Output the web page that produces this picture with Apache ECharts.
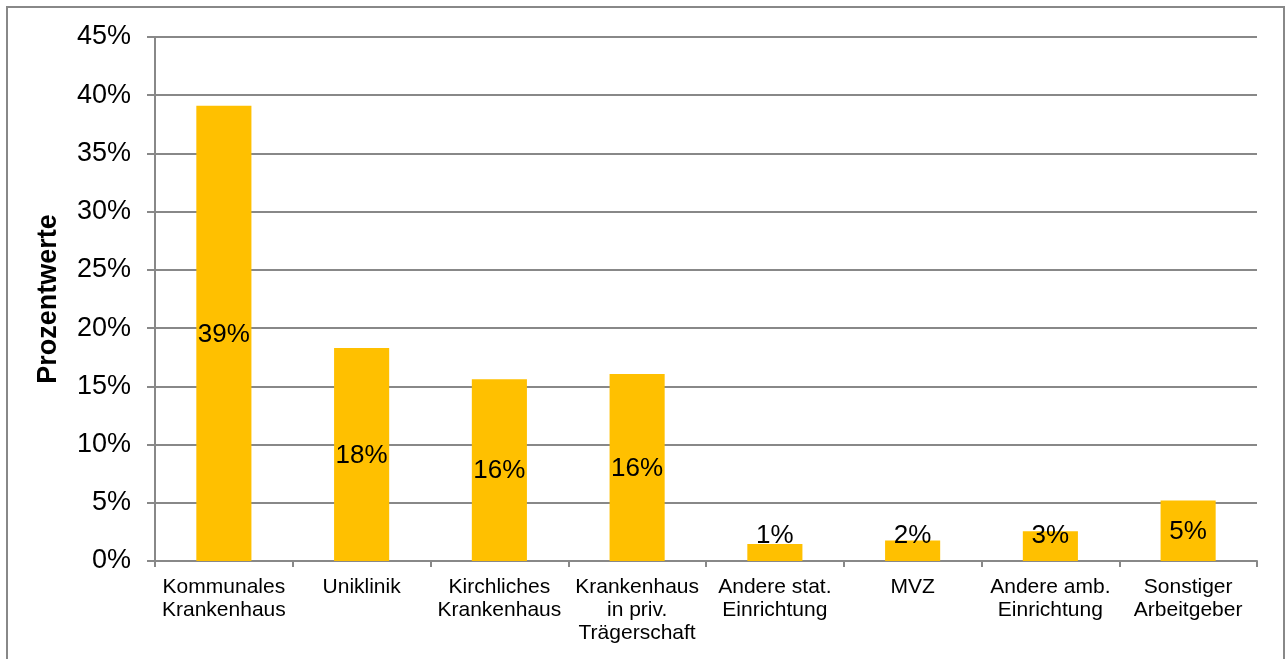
<!DOCTYPE html>
<html>
<head>
<meta charset="utf-8">
<script src="https://cdn.jsdelivr.net/npm/echarts@6/dist/echarts.min.js"></script>
<style>
html,body{margin:0;padding:0;background:#fff;}
#c{width:1288px;height:659px;}
</style>
</head>
<body>
<div id="c"></div>
<script>
var categories = [
  'Kommunales\nKrankenhaus',
  'Uniklinik',
  'Kirchliches\nKrankenhaus',
  'Krankenhaus\nin priv.\nTrägerschaft',
  'Andere stat.\nEinrichtung',
  'MVZ',
  'Andere amb.\nEinrichtung',
  'Sonstiger\nArbeitgeber'
];
var values = [39.1, 18.3, 15.6, 16.05, 1.45, 1.75, 2.55, 5.2];
var yTicks = { min: 0, max: 45, interval: 5 };
var axisTitle = 'Prozentwerte';

var chart = echarts.init(document.getElementById('c'), null, {renderer: 'canvas'});
var font = '"Liberation Sans", Arial, sans-serif';
chart.setOption({
  animation: false,
  backgroundColor: '#ffffff',
  graphic: [{
    type: 'rect',
    shape: {x: 7, y: 7, width: 1277, height: 700},
    style: {fill: 'none', stroke: '#888888', lineWidth: 2},
    silent: true
  }],
  grid: {left: 155, right: 31, top: 37, bottom: 98, containLabel: false},
  xAxis: {
    type: 'category',
    data: categories,
    axisLine: {show: true, lineStyle: {color: '#888888', width: 2}},
    axisTick: {show: true, alignWithLabel: false, length: 6, lineStyle: {color: '#888888', width: 2}},
    axisLabel: {
      interval: 0, margin: 15, color: '#000', fontFamily: font, fontSize: 21, lineHeight: 23, align: 'center'
    },
    splitLine: {show: false}
  },
  yAxis: {
    type: 'value',
    min: yTicks.min, max: yTicks.max, interval: yTicks.interval,
    name: axisTitle,
    nameLocation: 'middle',
    nameGap: 93,
    nameRotate: 90,
    nameTextStyle: {color: '#000', fontFamily: font, fontSize: 27, fontWeight: 'bold'},
    axisLine: {show: true, lineStyle: {color: '#888888', width: 2}},
    axisTick: {show: true, length: 8, inside: false, lineStyle: {color: '#888888', width: 2}},
    axisLabel: {formatter: '{value}%', margin: 24, color: '#000', fontFamily: font, fontSize: 27},
    splitLine: {show: true, lineStyle: {color: '#888888', width: 2}}
  },
  series: [{
    type: 'bar',
    data: values,
    barWidth: '40%',
    itemStyle: {color: '#FFC000'},
    label: {
      show: true,
      position: 'inside',
      color: '#000',
      fontFamily: font,
      fontSize: 26,
      formatter: function (p) { return Math.round(p.value) + '%'; }
    },
    labelLayout: function (p) {
      var cy = p.rect.y + p.rect.height / 2;
      return {
        x: p.rect.x + p.rect.width / 2,
        y: Math.min(cy + 1, 536),
        align: 'center',
        verticalAlign: 'middle'
      };
    }
  }]
});
</script>
</body>
</html>
